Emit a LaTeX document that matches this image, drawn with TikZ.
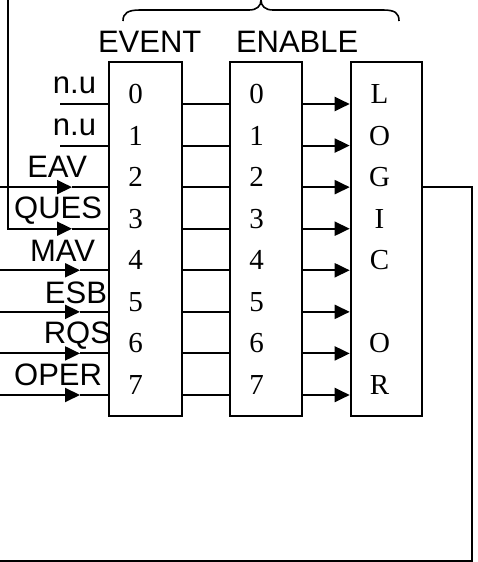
\documentclass[tikz,border=0pt]{standalone}
\usepackage{fontspec}
\setmainfont{Liberation Serif}
\newfontfamily\labelfont{Liberation Sans}
\usetikzlibrary{arrows.meta}
\begin{document}
\begin{tikzpicture}[x=1pt,y=-1pt,line width=2pt,
  regbox/.style={draw,line width=2pt,minimum height=353.7pt,inner sep=0pt},
  bit/.style={font=\fontsize{29}{30}\selectfont,anchor=base,inner sep=0pt},
  sig/.style={font=\labelfont\fontsize{31}{36}\selectfont,anchor=base east,inner sep=0pt},
  ttl/.style={font=\labelfont\fontsize{31}{36}\selectfont,anchor=base west,inner sep=0pt},
  tip/.style={-{Triangle[length=15pt,width=14pt]}},
  wire/.style={line width=2pt}]
\useasboundingbox (0,0) rectangle (477,562);

% registers
\node[regbox,minimum width=73pt] (ev) at (145,238.85) {};
\node[regbox,minimum width=71.7pt] (en) at (265.85,238.85) {};
\node[regbox,minimum width=71.6pt] (lg) at (386.5,238.85) {};

% rows
\foreach \i in {0,...,7}{
  \pgfmathsetmacro\yy{104+41.57*\i}
  \coordinate (r\i) at (0,\yy);
  \draw[wire] (ev.east |- r\i) -- (en.west |- r\i);
  \draw[wire,tip] (en.east |- r\i) -- (lg.west |- r\i);
  \node[bit] (d\i) at (135.5,\yy-0.5) {\i};
  \node[bit] (e\i) at (256.7,\yy-0.5) {\i};
}
\foreach \i/\c in {0/L,1/O,2/G,3/I,4/C,6/O,7/R}{
  \pgfmathsetmacro\yy{104+41.57*\i}
  \node[bit] (g\i) at (379.5,\yy-0.5) {\c};
}

% inputs
\foreach \i in {0,1}{
  \pgfmathsetmacro\yy{104+41.57*\i}
  \coordinate (s\i) at (60,\yy);
  \draw[wire] (s\i) -- (ev.west |- s\i);
}
\coordinate (s2) at (0,187.14);
\coordinate (a2) at (72,187.14);
\draw[wire,tip] (s2) -- (a2);
\draw[wire] (a2) -- (ev.west |- a2);
\coordinate (s3) at (7.5,0);
\coordinate (a3) at (72,228.71);
\draw[wire,tip] (s3) |- (a3);
\draw[wire] (a3) -- (ev.west |- a3);
\foreach \i in {4,...,7}{
  \pgfmathsetmacro\yy{104+41.57*\i}
  \coordinate (s\i) at (0,\yy);
  \coordinate (a\i) at (80,\yy);
  \draw[wire,tip] (s\i) -- (a\i);
  \draw[wire] (a\i) -- (ev.west |- a\i);
}

% feedback
\coordinate (fb1) at (472.3,187.14);
\coordinate (fb2) at (472.3,561);
\coordinate (fb3) at (0,561);
\draw[wire] (lg.east |- fb1) -- (fb1) -- (fb2) -- (fb3);

% labels
\node[sig] (l0) at (97,93) {n.u};
\node[sig] (l1) at (97,135) {n.u};
\node[sig] (l2) at (88,177) {EAV};
\node[sig] (l3) at (103,218.5) {QUES};
\node[sig] (l4) at (96,261) {MAV};
\node[sig] (l5) at (108,303) {ESB};
\node[sig] (l6) at (112,343) {RQS};
\node[sig] (l7) at (103,385) {OPER};

\node[ttl] (tev) at (97,52.7) {EVENT};
\node[ttl] (ten) at (235,52.7) {ENABLE};

% brace
\draw[line width=1.6pt] (123,21) .. controls (123,13) and (128,10) .. (140,10) -- (249,10)
  .. controls (257,10) and (261,6) .. (261,0)
  .. controls (261,6) and (265,10) .. (273,10) -- (383,10)
  .. controls (395,10) and (399,13) .. (399,21);
\end{tikzpicture}
\end{document}
